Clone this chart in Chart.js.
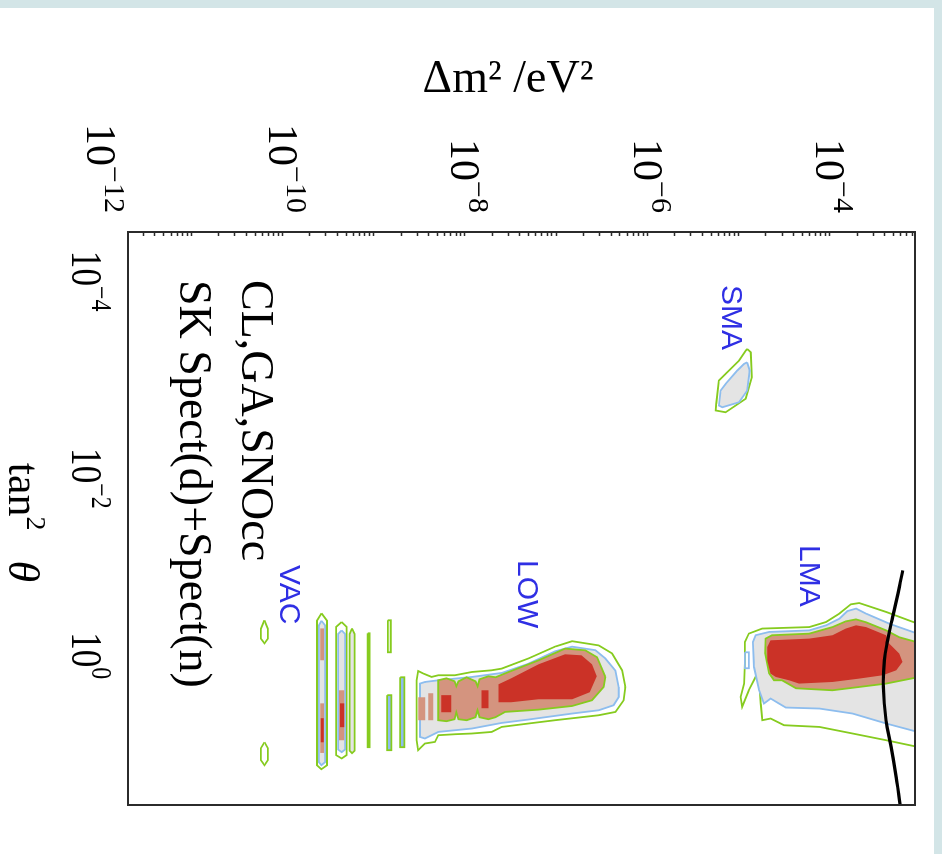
<!DOCTYPE html>
<html>
<head>
<meta charset="utf-8">
<title>Solar neutrino allowed regions</title>
<script src="https://cdn.jsdelivr.net/npm/chart.js@4.4.1/dist/chart.umd.min.js"></script>
<style>
  html, body { margin: 0; padding: 0; width: 942px; height: 854px; overflow: hidden; background: #d3e5e7; }
  #sheet { position: absolute; left: 0; top: 8px; width: 934px; height: 846px; background: #fff; }
  #turn { position: absolute; left: 44px; top: -44px; width: 854px; height: 942px; transform: rotate(90deg); }
</style>
</head>
<body>
<div id="sheet"></div>
<div id="turn"><canvas id="fitChart" width="854" height="942"></canvas></div>
<script>
// axes: tan^2(theta) runs down the page's left side, dm^2 along its top
const tanRange = [3e-5, 13];
const dm2Range = [2e-12, 8.5e-4];
const tanTickLabels = [1e-4, 1e-2, 1];
const dm2TickLabels = [1e-12, 1e-10, 1e-8, 1e-6, 1e-4];

// contours, points as [tan^2 theta, dm^2 in eV^2]
const lmaOuter = [[0.278,2e-3],[0.164,4.1e-4],[0.134,2.08e-4],[0.138,1.68e-4],[0.170,1.26e-4],[0.206,9.0e-5],
  [0.231,5.9e-5],[0.239,1.8e-5],[0.268,1.28e-5],[0.324,1.16e-5],[0.528,1.16e-5],[0.831,1.14e-5],[1.125,1.04e-5],
  [1.411,1.08e-5],[0.967,1.28e-5],[0.715,1.52e-5],[0.771,1.66e-5],[1.306,1.73e-5],[1.906,1.8e-5],[1.834,2.22e-5],
  [2.134,3.12e-5],[2.218,7.6e-5],[2.575,1.76e-4],[2.998,4.1e-4],[4.05,2e-3]];
const lma99 = [[0.344,2e-3],[0.214,4.44e-4],[0.170,2.46e-4],[0.152,1.92e-4],[0.161,1.54e-4],[0.191,1.26e-4],
  [0.222,9.0e-5],[0.249,5.9e-5],[0.258,2.14e-5],[0.278,1.52e-5],[0.324,1.42e-5],[0.571,1.46e-5],[0.967,1.66e-5],
  [1.306,1.88e-5],[1.166,2.22e-5],[1.306,2.74e-5],[1.43,3.26e-5],[1.463,7.6e-5],[1.638,1.76e-4],[2.053,4.1e-4],[2.998,2e-3]];
const lma95 = [[0.398,2e-3],[0.291,5.72e-4],[0.249,4.1e-4],[0.207,2.46e-4],[0.194,1.92e-4],[0.203,1.48e-4],
  [0.231,1.06e-4],[0.268,5.9e-5],[0.278,2.3e-5],[0.300,1.96e-5],[0.418,1.94e-5],[0.658,2.14e-5],[0.771,2.42e-5],
  [0.771,2.96e-5],[0.924,4.22e-5],[0.967,1.06e-4],[0.897,2.08e-4],[0.831,4.1e-4],[0.625,2e-3]];
const lma90 = [[0.336,4.44e-4],[0.278,4.1e-4],[0.231,2.46e-4],[0.222,1.92e-4],[0.239,1.48e-4],[0.278,1.06e-4],
  [0.300,5.9e-5],[0.312,2.22e-5],[0.363,2.04e-5],[0.490,2.04e-5],[0.662,2.22e-5],[0.715,2.52e-5],[0.771,3.54e-5],
  [0.831,4.56e-5],[0.801,1.06e-4],[0.742,2.08e-4],[0.688,3.76e-4],[0.615,5.28e-4],[0.509,6.2e-4],[0.421,5.72e-4]];
const lmaSpeck = [[0.409,1.16e-5],[0.587,1.16e-5],[0.587,1.28e-5],[0.409,1.28e-5]];

const smaOuter = [[4.24e-4,1.23e-5],[4.58e-4,1.345e-5],[8.05e-4,1.38e-5],[1.31e-3,1.185e-5],[1.78e-3,7.14e-6],
  [1.71e-3,5.55e-6],[1.47e-3,5.63e-6],[8.68e-4,6.03e-6],[7.46e-4,7.14e-6],[5.52e-4,1.0e-5],[4.41e-4,1.185e-5]];
const sma99 = [[5.74e-4,1.23e-5],[6.92e-4,1.31e-5],[1.09e-3,1.23e-5],[1.42e-3,1.0e-5],[1.59e-3,6.55e-6],
  [1.53e-3,6.03e-6],[1.09e-3,6.29e-6],[9.35e-4,7.14e-6],[6.92e-4,9.57e-6],[5.95e-4,1.135e-5]];

const lowOuter = [[0.897,5.68e-7],[0.615,5.22e-7],[0.42,4.06e-7],[0.35,2.9e-7],[0.318,1.48e-7],[0.36,9.6e-8],
  [0.470,4.92e-8],[0.592,2.5e-8],[0.615,1.94e-8],[0.639,1.18e-8],[0.688,7.7e-9],[0.688,5.04e-9],[0.715,4.26e-9],
  [0.662,3.46e-9],[0.625,3.04e-9],[0.771,2.92e-9],[2.998,2.92e-9],[3.757,3.04e-9],[3.23,3.6e-9],[3.115,4.64e-9],
  [2.676,5.04e-9],[2.617,7.7e-9],[2.575,1.18e-8],[2.484,1.94e-8],[2.218,2.5e-8],[2.053,4.92e-8],[1.906,9.6e-8],
  [1.702,2.9e-7],[1.579,4.42e-7],[1.212,5.44e-7]];
const low99 = [[0.897,4.8e-7],[0.62,4.42e-7],[0.47,3.42e-7],[0.39,2.66e-7],[0.36,1.48e-7],[0.40,9.6e-8],
  [0.53,4.92e-8],[0.653,2.5e-8],[0.715,1.18e-8],[0.771,5.04e-9],[0.801,3.6e-9],[0.831,3.18e-9],[2.781,3.18e-9],
  [2.884,3.6e-9],[2.484,5.04e-9],[2.30,1.18e-8],[2.026,2.5e-8],[1.876,4.92e-8],[1.638,1.48e-7],[1.52,2.9e-7],
  [1.357,4.22e-7],[1.125,4.8e-7]];
const low95 = [[0.715,3.42e-7],[0.458,2.78e-7],[0.391,2.06e-7],[0.376,1.24e-7],[0.49,6.34e-8],[0.66,2.72e-8],
  [0.720,2.14e-8],[0.704,1.79e-8],[0.754,1.43e-8],[0.883,1.36e-8],[0.789,1.29e-8],[0.720,1.03e-8],[0.789,8.4e-9],
  [0.883,7.96e-9],[0.789,7.6e-9],[0.737,6.2e-9],[0.771,5.04e-9],[1.906,5.04e-9],[1.949,6.2e-9],[1.863,7.6e-9],
  [1.59,7.96e-9],[1.863,8.4e-9],[1.906,1.03e-8],[1.781,1.29e-8],[1.52,1.36e-8],[1.781,1.43e-8],[1.863,1.79e-8],
  [1.781,2.14e-8],[1.579,2.72e-8],[1.5,6.34e-8],[1.38,1.48e-7],[1.212,2.44e-7],[0.897,3.28e-7]];
const low90 = [[0.704,2.75e-7],[0.537,2.44e-7],[0.438,1.88e-7],[0.428,1.24e-7],[0.537,6.34e-8],[0.737,3.18e-8],
  [0.844,2.3e-8],[1.268,2.3e-8],[1.268,3.18e-8],[1.185,6.34e-8],[1.185,1.48e-7],[1.011,2.31e-7]];
const lowRedBeadA = [[0.967,1.5e-8],[0.967,1.79e-8],[1.452,1.79e-8],[1.452,1.5e-8]];
const lowRedBeadB = [[1.08,5.44e-9],[1.08,7.0e-9],[1.59,7.0e-9],[1.59,5.44e-9]];
const lowTailA = [[1.133,3.04e-9],[1.133,3.63e-9],[1.906,3.63e-9],[1.906,3.04e-9]];
const lowTailB = [[1.034,3.92e-9],[1.034,4.45e-9],[1.906,4.45e-9],[1.906,3.92e-9]];

const vacAOuter = [[0.169,2.64e-10],[0.2,3.04e-10],[5.28,3.04e-10],[5.78,2.64e-10],[5.28,2.36e-10],[0.2,2.36e-10]];
const vacA99 = [[0.2,2.64e-10],[0.222,2.9e-10],[4.93,2.9e-10],[5.28,2.64e-10],[4.93,2.48e-10],[0.222,2.48e-10]];
const vacA95top = [[0.238,2.56e-10],[0.238,2.82e-10],[0.49,2.82e-10],[0.49,2.56e-10]];
const vacA95low = [[1.3,2.56e-10],[1.3,2.82e-10],[4.0,2.82e-10],[4.0,2.56e-10]];
const vacA90 = [[1.82,2.6e-10],[1.82,2.8e-10],[3.14,2.8e-10],[3.14,2.6e-10]];
const vacBOuter = [[0.206,4.4e-10],[0.23,4.98e-10],[4.2,4.98e-10],[4.53,4.4e-10],[4.2,3.82e-10],[0.23,3.82e-10]];
const vacB99 = [[0.249,4.4e-10],[0.27,4.8e-10],[3.7,4.8e-10],[3.93,4.4e-10],[3.7,4.02e-10],[0.27,4.02e-10]];
const vacB95 = [[0.967,4.12e-10],[0.967,4.7e-10],[3.0,4.7e-10],[3.0,4.12e-10]];
const vacB90 = [[1.3,4.22e-10],[1.3,4.7e-10],[2.23,4.7e-10],[2.23,4.22e-10]];
const vacC = [[0.238,5.72e-10],[0.27,6.1e-10],[3.8,6.1e-10],[4.02,5.72e-10],[3.8,5.38e-10],[0.27,5.38e-10]];
const vacD = [[0.266,8.5e-10],[0.266,8.9e-10],[3.51,8.9e-10],[3.51,8.5e-10]];
const vacEtop = [[0.198,1.41e-9],[0.198,1.52e-9],[0.409,1.52e-9],[0.409,1.41e-9]];
const vacElow = [[1.08,1.39e-9],[1.08,1.54e-9],[3.757,1.54e-9],[3.757,1.39e-9]];
const vacF = [[0.72,1.93e-9],[0.72,2.14e-9],[3.51,2.14e-9],[3.51,1.93e-9]];
const vacIslandTop = [[0.198,6.26e-11],[0.24,6.84e-11],[0.3,6.84e-11],[0.334,6.26e-11],[0.3,5.72e-11],[0.24,5.72e-11]];
const vacIslandLow = [[3.136,6.26e-11],[3.6,6.84e-11],[4.7,6.84e-11],[5.278,6.26e-11],[4.7,5.72e-11],[3.6,5.72e-11]];

// reactor bound (black curve)
const reactorBound = [[0.064,6.24e-4],[0.0933,5.73e-4],[0.184,4.83e-4],[0.312,4.26e-4],[0.49,3.92e-4],
  [0.897,3.82e-4],[1.906,4.09e-4],[3.487,4.65e-4],[6.88,5.27e-4],[13.0,5.83e-4],[16,5.9e-4]];

const GREEN = '#86cb1f', BLUE = '#8dbdee', GREY = '#e4e4e4', SALMON = '#d4947f', RED = '#cb3227';
const SERIF = '"Liberation Serif", "Times New Roman", serif';
const SANS = '"Liberation Sans", Arial, sans-serif';

function shape(points, border, fill, order) {
  const pts = points.concat([points[0]]).map(p => ({ x: p[0], y: p[1] }));
  return {
    data: pts,
    borderColor: border || 'rgba(0,0,0,0)',
    borderWidth: border ? 1.8 : 0,
    backgroundColor: fill || 'rgba(0,0,0,0)',
    fill: fill ? 'shape' : false,
    pointRadius: 0,
    tension: 0,
    clip: 0,
    order: order
  };
}

const datasets = [
  shape(lmaOuter, GREEN, null, 6), shape(lma99, BLUE, GREY, 5), shape(lma95, GREEN, SALMON, 4), shape(lma90, null, RED, 3),
  shape(lmaSpeck, BLUE, null, 5),
  shape(smaOuter, GREEN, null, 6), shape(sma99, BLUE, GREY, 5),
  shape(lowOuter, GREEN, null, 6), shape(low99, BLUE, GREY, 5), shape(low95, GREEN, SALMON, 4), shape(low90, null, RED, 3),
  shape(lowRedBeadA, null, RED, 3), shape(lowRedBeadB, null, RED, 3),
  shape(lowTailA, null, SALMON, 4), shape(lowTailB, null, SALMON, 4),
  shape(vacAOuter, GREEN, null, 6), shape(vacA99, BLUE, GREY, 5), shape(vacA95top, null, SALMON, 4),
  shape(vacA95low, null, SALMON, 4), shape(vacA90, null, RED, 3),
  shape(vacBOuter, GREEN, null, 6), shape(vacB99, BLUE, GREY, 5), shape(vacB95, null, SALMON, 4), shape(vacB90, null, RED, 3),
  shape(vacC, GREEN, GREY, 5), shape(vacD, GREEN, null, 5),
  shape(vacEtop, GREEN, null, 6), shape(vacElow, GREEN, BLUE, 5), shape(vacF, GREEN, BLUE, 5),
  shape(vacIslandTop, GREEN, null, 6), shape(vacIslandLow, GREEN, null, 6),
  {
    data: reactorBound.map(p => ({ x: p[0], y: p[1] })),
    borderColor: '#000', borderWidth: 3.2, fill: false, pointRadius: 0, tension: 0.4, clip: 0, order: 1
  }
];

// draws "10" with a raised exponent; squeeze narrows the glyphs
function pow10(ctx, value, x, base, anchor, big, small, lift, squeeze) {
  const exp = Math.round(Math.log10(value));
  const sup = exp < 0 ? '\u2212' + (-exp) : String(exp);
  ctx.font = big + 'px ' + SERIF;
  const w1 = ctx.measureText('10').width * squeeze;
  ctx.font = small + 'px ' + SERIF;
  const w2 = ctx.measureText(sup).width * squeeze;
  const x0 = anchor === 'right' ? x - w1 - w2 : x - (w1 + w2) / 2;
  ctx.save();
  ctx.translate(x0, base);
  ctx.scale(squeeze, 1);
  ctx.textAlign = 'left';
  ctx.textBaseline = 'alphabetic';
  ctx.font = big + 'px ' + SERIF;
  ctx.fillText('10', 0, 0);
  ctx.font = small + 'px ' + SERIF;
  ctx.fillText(sup, w1 / squeeze, -lift);
  ctx.restore();
}

// shift of each tan^2 label along its axis, as drawn in the original figure
const tanLabelShift = [-4, -10, -36];

const decorations = {
  id: 'decorations',
  afterDraw(chart) {
    const { ctx, chartArea: a } = chart;
    const xs = chart.scales.x, ys = chart.scales.y;
    ctx.save();
    ctx.strokeStyle = '#2b2b2b';
    ctx.lineWidth = 2;
    ctx.strokeRect(a.left, a.top, a.right - a.left, a.bottom - a.top);

    // dm^2 ticks point into the frame
    ctx.lineWidth = 1.5;
    ctx.beginPath();
    for (let e = -12; e < -3; e++) {
      for (let k = 1; k < 10; k++) {
        const py = Math.round(ys.getPixelForValue(k * Math.pow(10, e))) + 0.5;
        if (py < a.top || py > a.bottom) continue;
        ctx.moveTo(a.left, py);
        ctx.lineTo(a.left + 4, py);
      }
    }
    ctx.stroke();

    ctx.fillStyle = '#000';
    dm2TickLabels.forEach(v => pow10(ctx, v, a.left - 19, ys.getPixelForValue(v) + 14, 'right', 42, 30, 18, 1));
    tanTickLabels.forEach((v, i) =>
      pow10(ctx, v, xs.getPixelForValue(v) + tanLabelShift[i], a.bottom + 56, 'center', 44, 30, 20, 0.8));

    // tan^2 theta title
    const cx = (a.left + a.right) / 2 + 4;
    ctx.font = '44px ' + SERIF;
    const wt = ctx.measureText('tan').width;
    ctx.font = '28px ' + SERIF;
    const w2 = ctx.measureText('2').width;
    ctx.font = 'italic 44px ' + SERIF;
    const wth = ctx.measureText('\u03b8').width;
    const gap = 30;
    const sx = cx - (wt + w2 + gap + wth) / 2;
    ctx.font = '44px ' + SERIF;
    ctx.fillText('tan', sx, 933);
    ctx.font = '28px ' + SERIF;
    ctx.fillText('2', sx + wt, 915);
    ctx.font = 'italic 44px ' + SERIF;
    ctx.fillText('\u03b8', sx + wt + w2 + gap, 933);

    // dm^2 title reads upright on the page
    ctx.save();
    ctx.translate(92, 434);
    ctx.rotate(-Math.PI / 2);
    ctx.textAlign = 'center';
    ctx.font = '46px ' + SERIF;
    ctx.fillText('\u0394m\u00b2 /eV\u00b2', 0, 0);
    ctx.restore();

    // data set captions
    ctx.textAlign = 'left';
    ctx.font = '46px ' + SERIF;
    ctx.fillText('CL,GA,SNOcc', 280, 700);
    ctx.fillText('SK Spect(d)+Spect(n)', 280, 762);

    // region names
    ctx.fillStyle = '#2f2fe4';
    ctx.font = '30px ' + SANS;
    ctx.fillText('SMA', 285, 220);
    ctx.fillText('LMA', 545, 142);
    ctx.fillText('LOW', 560, 424);
    ctx.fillText('VAC', 565, 662);
    ctx.restore();
  }
};

new Chart(document.getElementById('fitChart'), {
  type: 'line',
  data: { datasets: datasets },
  options: {
    responsive: false,
    animation: false,
    events: [],
    layout: { padding: { left: 232, right: 49, top: 27, bottom: 128 } },
    scales: {
      x: { type: 'logarithmic', min: tanRange[0], max: tanRange[1], display: false },
      y: { type: 'logarithmic', min: dm2Range[0], max: dm2Range[1], display: false }
    },
    plugins: { legend: { display: false }, tooltip: { enabled: false } }
  },
  plugins: [decorations]
});
</script>
</body>
</html>
